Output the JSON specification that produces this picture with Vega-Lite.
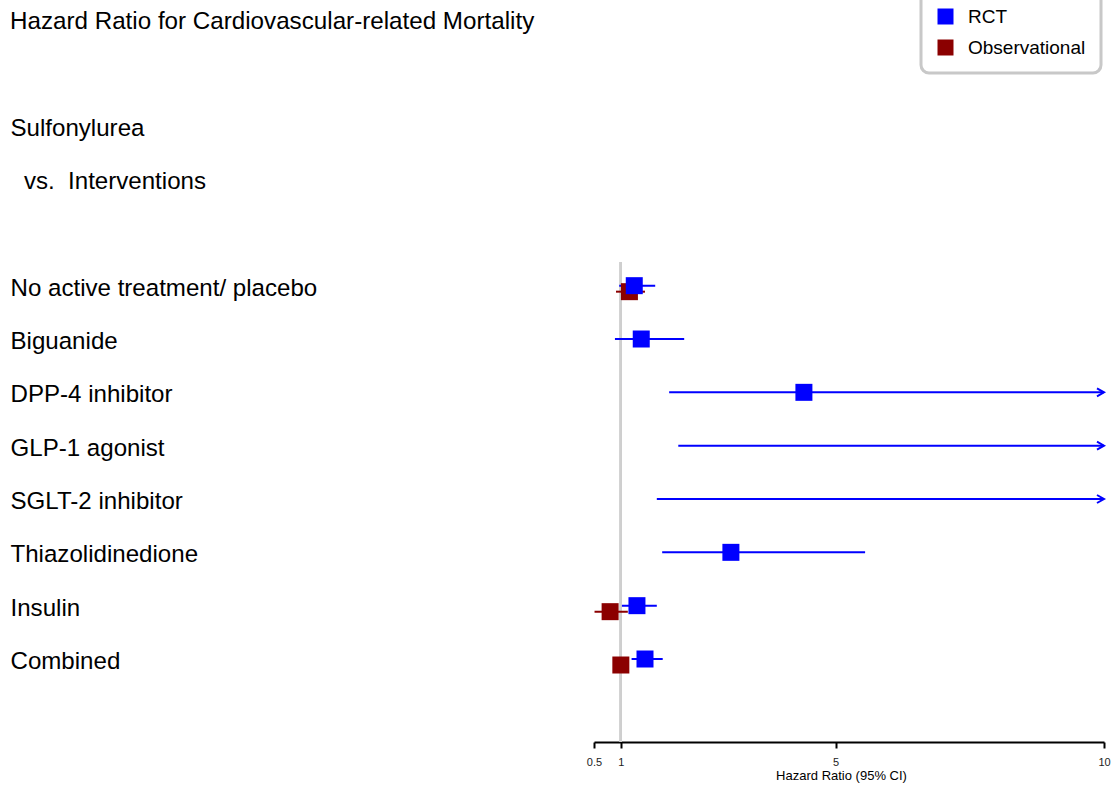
{
  "$schema": "https://vega.github.io/schema/vega-lite/v6.json",
  "width": 510,
  "height": 640,
  "autosize": {"type": "none"},
  "padding": {"left": 594, "top": 102, "right": 8, "bottom": 50},
  "background": "white",
  "title": {
    "text": "Hazard Ratio for Cardiovascular-related Mortality",
    "anchor": "start",
    "frame": "bounds",
    "font": "Liberation Sans",
    "fontSize": 24.2,
    "fontWeight": "normal",
    "color": "black",
    "offset": -44
  },
  "config": {
    "view": {"stroke": null},
    "font": "Liberation Sans"
  },
  "data": {
    "values": [
      {"type": "Observational", "row": "No active treatment/ placebo", "lo": 0.91, "est": 1.16, "hi": 1.45},
      {"type": "Observational", "row": "Insulin", "lo": 0.51, "est": 0.80, "hi": 1.13},
      {"type": "Observational", "row": "Combined", "lo": 0.86, "est": 1.00, "hi": 1.14},
      {"type": "RCT", "row": "No active treatment/ placebo", "lo": 0.97, "est": 1.25, "hi": 1.64},
      {"type": "RCT", "row": "Biguanide", "lo": 0.89, "est": 1.38, "hi": 2.18},
      {"type": "RCT", "row": "DPP-4 inhibitor", "lo": 1.90, "est": 4.41, "hi": 15.0},
      {"type": "RCT", "row": "GLP-1 agonist", "lo": 2.07, "est": null, "hi": 20.0},
      {"type": "RCT", "row": "SGLT-2 inhibitor", "lo": 1.67, "est": null, "hi": 15.0},
      {"type": "RCT", "row": "Thiazolidinedione", "lo": 1.77, "est": 3.05, "hi": 5.55},
      {"type": "RCT", "row": "Insulin", "lo": 1.02, "est": 1.30, "hi": 1.67},
      {"type": "RCT", "row": "Combined", "lo": 1.20, "est": 1.45, "hi": 1.78}
    ]
  },
  "encoding": {
    "y": {
      "field": "row",
      "type": "nominal",
      "scale": {
        "domain": ["Sulfonylurea", "\u200c\u00a0\u00a0vs.\u00a0\u00a0Interventions", "_b1", "No active treatment/ placebo", "Biguanide", "DPP-4 inhibitor", "GLP-1 agonist", "SGLT-2 inhibitor", "Thiazolidinedione", "Insulin", "Combined", "_b2"],
        "paddingInner": 0,
        "paddingOuter": 0
      },
      "axis": {
        "title": null,
        "domain": false,
        "ticks": false,
        "grid": false,
        "labelAlign": "left",
        "labelPadding": 584,
        "labelLimit": 600,
        "labelFont": "Liberation Sans",
        "labelFontSize": 24.1,
        "labelColor": "black",
        "labelExpr": "indexof(datum.label, '_') === 0 ? '' : datum.label"
      }
    }
  },
  "layer": [
    {
      "mark": {"type": "rule", "color": "#cfcfcf", "strokeWidth": 2},
      "encoding": {
        "x": {"datum": 1, "type": "quantitative"},
        "y": {"datum": "No active treatment/ placebo", "bandPosition": 0},
        "y2": {"datum": "_b2", "bandPosition": 1}
      }
    },
    {
      "mark": {"type": "rule", "strokeWidth": 2},
      "encoding": {
        "x": {
          "field": "lo",
          "type": "quantitative",
          "scale": {"domain": [0.5, 10], "clamp": true, "nice": false, "zero": false},
          "axis": {
            "values": [0.5, 1, 5, 10],
            "format": ".1~f",
            "grid": false,
            "labelFlush": false,
            "labelOverlap": false,
            "labelFont": "Liberation Sans",
            "labelFontSize": 11,
            "labelColor": "#222222",
            "labelPadding": 8,
            "domainColor": "black",
            "domainWidth": 2,
            "tickColor": "black",
            "tickWidth": 2,
            "tickSize": 6,
            "title": "Hazard Ratio (95% CI)",
            "titleFont": "Liberation Sans",
            "titleFontSize": 13,
            "titleFontWeight": "normal",
            "titleColor": "black",
            "titlePadding": 2,
            "titleX": 247
          }
        },
        "x2": {"field": "hi"},
        "yOffset": {
          "field": "type",
          "type": "nominal",
          "scale": {"domain": ["RCT", "Observational"], "range": [20.67, 32.67], "paddingInner": 0, "paddingOuter": 0}
        },
        "stroke": {
          "field": "type",
          "type": "nominal",
          "scale": {"domain": ["Observational", "RCT"], "range": ["#8B0000", "#0000FF"]},
          "legend": null
        }
      }
    },
    {
      "transform": [{"filter": "datum.hi > 10"}],
      "mark": {"type": "point", "shape": "M-1.75,-1L0,0L-1.75,1", "filled": false, "size": 64, "strokeWidth": 2, "opacity": 1},
      "encoding": {
        "x": {"field": "hi", "type": "quantitative"},
        "yOffset": {"field": "type", "type": "nominal"},
        "stroke": {
          "field": "type",
          "type": "nominal",
          "scale": {"domain": ["Observational", "RCT"], "range": ["#8B0000", "#0000FF"]},
          "legend": null
        }
      }
    },
    {
      "transform": [{"filter": "isValid(datum.est)"}],
      "mark": {"type": "square", "size": 289, "opacity": 1, "filled": true},
      "encoding": {
        "x": {"field": "est", "type": "quantitative"},
        "yOffset": {"field": "type", "type": "nominal"},
        "color": {
          "field": "type",
          "type": "nominal",
          "scale": {"domain": ["RCT", "Observational"], "range": ["#0000FF", "#8B0000"]},
          "legend": {
            "title": null,
            "orient": "none",
            "legendX": 327,
            "legendY": -110,
            "symbolType": "square",
            "symbolSize": 256,
            "symbolOpacity": 1,
            "labelFont": "Liberation Sans",
            "labelFontSize": 19,
            "labelColor": "black",
            "labelOffset": 13,
            "rowPadding": 11,
            "padding": 15,
            "strokeColor": "#c8c8c8",
            "cornerRadius": 8,
            "fillColor": "white",
            "encode": {
              "legend": {"update": {"strokeWidth": {"value": 3}}}
            }
          }
        }
      }
    }
  ]
}
